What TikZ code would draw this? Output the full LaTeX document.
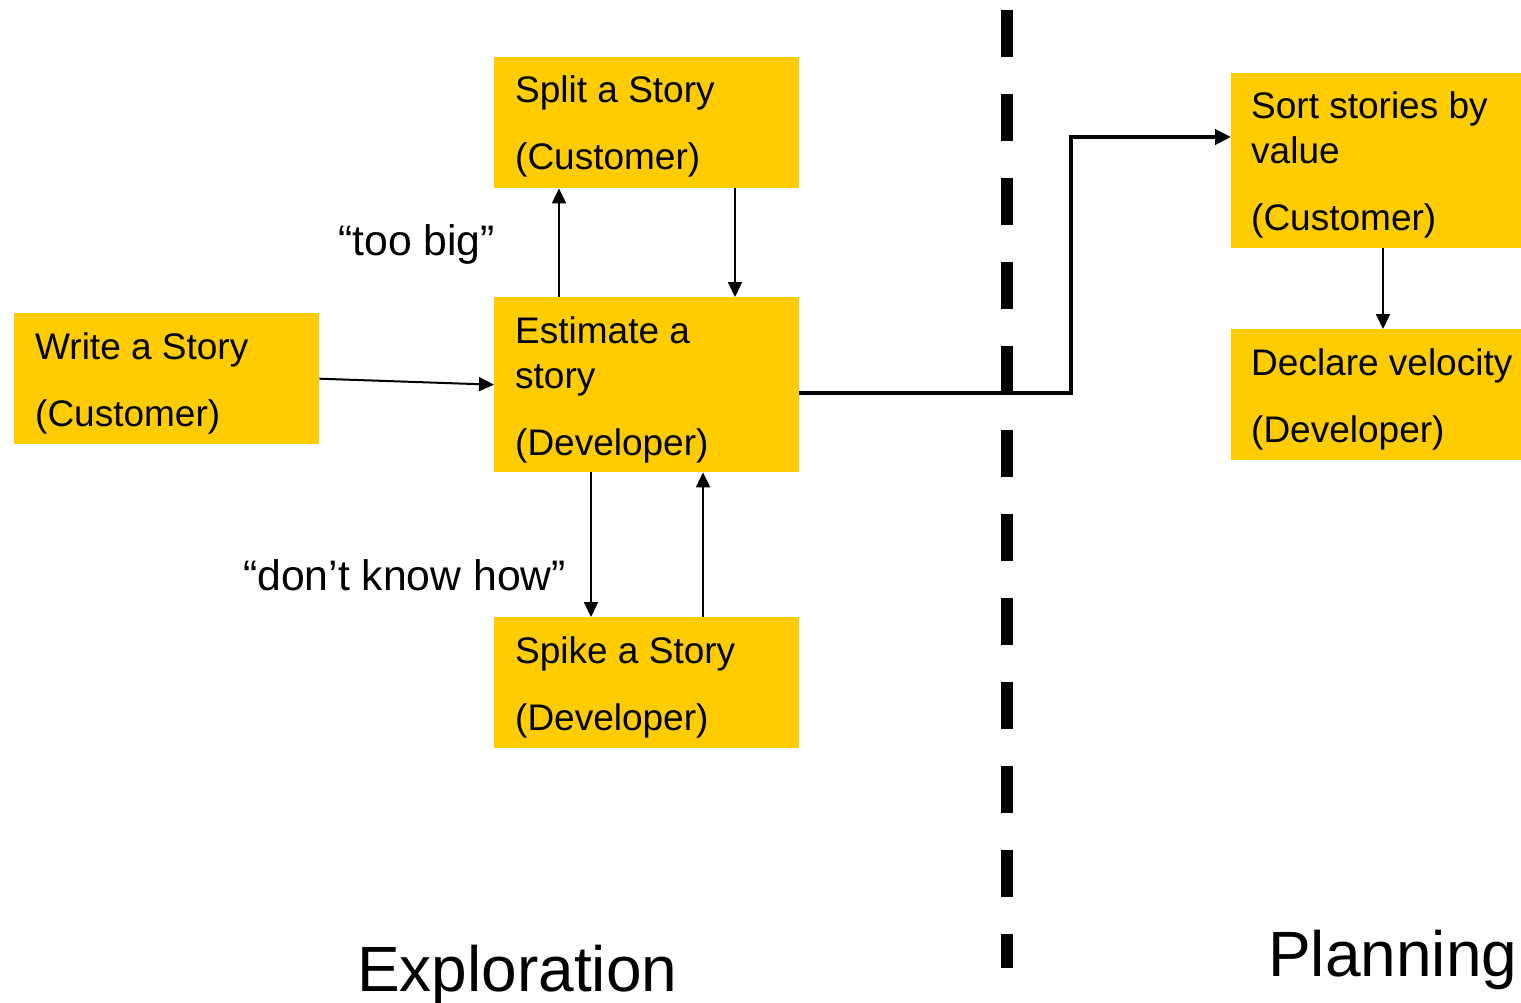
\documentclass[tikz,border=0pt]{standalone}
\usepackage{fontspec}
\setmainfont{Liberation Sans}
\usetikzlibrary{arrows.meta}
\definecolor{boxyellow}{RGB}{255,204,0}
\tikzset{
  box/.style={rectangle, fill=boxyellow, draw=none, anchor=north west, inner sep=0pt},
  txt/.style={anchor=base west, inner sep=0pt, font=\fontsize{37}{44}\selectfont},
  lbl/.style={anchor=base west, inner sep=0pt, font=\fontsize{42.7}{50}\selectfont},
  phase/.style={anchor=base west, inner sep=0pt, font=\fontsize{64}{70}\selectfont},
  arr/.style={line width=2pt, -{Triangle[length=15pt,width=14pt]}},
  thickarr/.style={line width=4pt, -{Triangle[length=16pt,width=15pt]}},
  divider/.style={line width=12pt, dash pattern=on 47pt off 37pt}
}
\begin{document}
\begin{tikzpicture}[x=1pt,y=-1pt]
\useasboundingbox (0,0) rectangle (1521,1003);
% boxes
\node[box, minimum width=305pt, minimum height=131pt] (split) at (494,57) {};
\node[box, minimum width=305pt, minimum height=175pt] (estimate) at (494,297) {};
\node[box, minimum width=305pt, minimum height=131pt] (write) at (14,313) {};
\node[box, minimum width=305pt, minimum height=131pt] (spike) at (494,617) {};
\node[box, minimum width=290pt, minimum height=175pt] (sort) at (1231,73) {};
\node[box, minimum width=290pt, minimum height=131pt] (declare) at (1231,329) {};
% texts
\node[txt] (splitA) at (515,103) {Split a Story};
\node[txt] (splitB) at (515,170) {(Customer)};
\node[txt] (estA) at (515,343) {Estimate a};
\node[txt] (estB) at (515,388) {story};
\node[txt] (estC) at (515,455) {(Developer)};
\node[txt] (writeA) at (35,359) {Write a Story};
\node[txt] (writeB) at (35,426) {(Customer)};
\node[txt] (spikeA) at (515,663) {Spike a Story};
\node[txt] (spikeB) at (515,730) {(Developer)};
\node[txt] (sortA) at (1251,119) {Sort stories by};
\node[txt] (sortB) at (1251,164) {value};
\node[txt] (sortC) at (1251,231) {(Customer)};
\node[txt] (declA) at (1251,375) {Declare velocity};
\node[txt] (declB) at (1251,442) {(Developer)};
% labels
\node[lbl] (toobig) at (338,255) {“too big”};
\node[lbl] (dontknow) at (243,590) {“don’t know how”};
\node[phase] (explor) at (357,991) {Exploration};
\node[phase] (plan) at (1268,976) {Planning};
% divider
\coordinate (divtop) at (1007,10);
\coordinate (divbot) at (1007,968);
\draw[divider] (divtop) -- (divbot);
% connectors
\draw[arr] (write.east) -- (estimate.west);
\draw[arr] ([xshift=65pt]estimate.north west) -- ([xshift=65pt]split.south west);
\draw[arr] ([xshift=241pt]split.south west) -- ([xshift=241pt]estimate.north west);
\draw[arr] ([xshift=97pt]estimate.south west) -- ([xshift=97pt]spike.north west);
\draw[arr] ([xshift=209pt]spike.north west) -- ([xshift=209pt]estimate.south west);
\draw[arr] ([xshift=152pt]sort.south west) -- ([xshift=152pt]declare.north west);
\coordinate (bend) at (1071,137);
\draw[thickarr] ([yshift=-8.5pt]estimate.east) -| (bend) -- (sort.west |- bend);
\end{tikzpicture}
\end{document}
